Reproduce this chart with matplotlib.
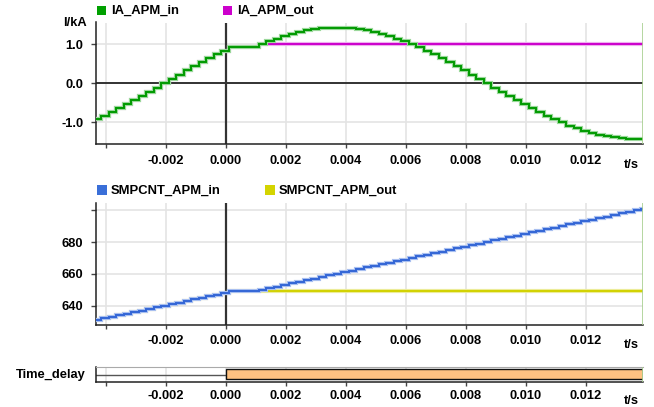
import numpy as np
import matplotlib.pyplot as plt
from matplotlib.patches import Rectangle
from matplotlib.ticker import FuncFormatter

plt.rcParams['font.family'] = ['Liberation Sans', 'DejaVu Sans']
plt.rcParams['font.weight'] = 'bold'
plt.rcParams['font.size'] = 9.3

# sample times in ms
time_ms = [-4.4, -4.15, -3.9, -3.65, -3.4, -3.15, -2.9, -2.65, -2.4, -2.15,
           -1.9, -1.65, -1.4, -1.15, -0.9, -0.65, -0.4, -0.15,
           0.1, 0.35, 0.6, 0.85,
           1.1, 1.35, 1.6, 1.85, 2.1, 2.35, 2.6, 2.85, 3.1, 3.35, 3.6, 3.85,
           4.1, 4.35, 4.6, 4.85, 5.1, 5.35, 5.6, 5.85, 6.1, 6.35, 6.6, 6.85,
           7.1, 7.35, 7.6, 7.85, 8.1, 8.35, 8.6, 8.85, 9.1, 9.35, 9.6, 9.85,
           10.1, 10.35, 10.6, 10.85, 11.1, 11.35, 11.6, 11.85, 12.1, 12.35,
           12.6, 12.85, 13.1, 13.35, 13.6, 13.85]

ia_in = [-0.92, -0.83, -0.74, -0.64, -0.54, -0.44, -0.33, -0.22, -0.11, 0.00,
         0.11, 0.22, 0.33, 0.44, 0.54, 0.64, 0.74, 0.83,
         0.92, 0.92, 0.92, 0.92,
         1.00, 1.08, 1.14, 1.21, 1.26, 1.31, 1.35, 1.38, 1.40, 1.41, 1.41,
         1.41, 1.40, 1.38, 1.35, 1.31, 1.26, 1.21, 1.14, 1.08, 1.00, 0.92,
         0.83, 0.74, 0.64, 0.54, 0.44, 0.33, 0.22, 0.11, 0.00,
         -0.11, -0.22, -0.33, -0.44, -0.54, -0.64, -0.74, -0.83, -0.92, -1.00,
         -1.08, -1.14, -1.21, -1.26, -1.31, -1.35, -1.38, -1.40, -1.41, -1.41, -1.41]

ia_out = [-0.92, -0.83, -0.74, -0.64, -0.54, -0.44, -0.33, -0.22, -0.11, 0.00,
          0.11, 0.22, 0.33, 0.44, 0.54, 0.64, 0.74, 0.83,
          0.92, 0.92, 0.92, 0.92,
          1.00, 1.00, 1.00, 1.00, 1.00, 1.00, 1.00, 1.00, 1.00, 1.00, 1.00,
          1.00, 1.00, 1.00, 1.00, 1.00, 1.00, 1.00, 1.00, 1.00, 1.00, 1.00,
          1.00, 1.00, 1.00, 1.00, 1.00, 1.00, 1.00, 1.00, 1.00,
          1.00, 1.00, 1.00, 1.00, 1.00, 1.00, 1.00, 1.00, 1.00, 1.00,
          1.00, 1.00, 1.00, 1.00, 1.00, 1.00, 1.00, 1.00, 1.00, 1.00, 1.00]

smpcnt_in = [631, 632, 633, 634, 635, 636, 637, 638, 639, 640,
             641, 642, 643, 644, 645, 646, 647, 648,
             649, 649, 649, 649,
             650, 651, 652, 653, 654, 655, 656, 657, 658, 659, 660, 661,
             662, 663, 664, 665, 666, 667, 668, 669, 670, 671, 672, 673,
             674, 675, 676, 677, 678, 679, 680, 681, 682, 683, 684, 685,
             686, 687, 688, 689, 690, 691, 692, 693, 694, 695,
             696, 697, 698, 699, 700, 701]

smpcnt_out = [631, 632, 633, 634, 635, 636, 637, 638, 639, 640,
              641, 642, 643, 644, 645, 646, 647, 648,
              649, 649, 649, 649,
              649, 649, 649, 649, 649, 649, 649, 649, 649, 649, 649, 649,
              649, 649, 649, 649, 649, 649, 649, 649, 649, 649, 649, 649,
              649, 649, 649, 649, 649, 649, 649, 649, 649, 649, 649, 649,
              649, 649, 649, 649, 649, 649, 649, 649, 649, 649,
              649, 649, 649, 649, 649, 649]

# Time_delay: off before the trigger, on after it
delay_switch_ms = 0.0

x_ticks = [-0.004, -0.002, 0.000, 0.002, 0.004, 0.006, 0.008, 0.010, 0.012]
ia_ticks = [-1.0, 0.0, 1.0]
smp_ticks = [640, 660, 680, 700]

t = np.array(time_ms) / 1000.0
xmin, xmax = -0.00434, 0.01391

W, H = 654, 407
fig = plt.figure(figsize=(W / 100, H / 100), dpi=100)


def fx(px):
    return px / W


def fy(py):
    return 1 - py / H


GRID = '#e4e4e4'
DARK = '#333333'
EDGE = '#a8d090'


def style_axis(ax, pad):
    ax.set_xlim(xmin, xmax)
    ax.set_xticks(x_ticks)
    ax.xaxis.set_major_formatter(FuncFormatter(
        lambda v, p: '' if v < -0.003 else f'{v:.3f}'))
    for s in ['top', 'right']:
        ax.spines[s].set_visible(False)
    for s in ['left', 'bottom']:
        ax.spines[s].set_color('#222222')
        ax.spines[s].set_linewidth(1.1)
    ax.tick_params(axis='x', length=3, width=1, color='#444444', pad=pad)
    ax.tick_params(axis='y', length=3.5, width=1, color='#444444', pad=5.2)
    ax.grid(True, color=GRID, lw=1.2)
    ax.set_axisbelow(True)
    ax.axvline(xmax, color=EDGE, lw=1.2, zorder=5)


def step_line(ax, y, color, halo, z):
    xs = np.append(t, xmax)
    ys = np.append(y, y[-1])
    ax.plot(xs, ys, drawstyle='steps-post', color=halo, lw=3.0, zorder=z,
            solid_capstyle='butt', solid_joinstyle='miter')
    ax.plot(xs, ys, drawstyle='steps-post', color=color, lw=1.4, zorder=z + 0.5,
            solid_joinstyle='miter')


# top panel: current
ax1 = fig.add_axes([fx(95.5), fy(144), fx(643) - fx(95.5), fy(22.5) - fy(144)])
style_axis(ax1, 5.0)
ax1.set_ylim(-1.55, 1.55)
ax1.set_yticks(ia_ticks)
ax1.yaxis.set_major_formatter(FuncFormatter(lambda v, p: f'{v:.1f}'))
ax1.axhline(0, color=DARK, lw=1.4, zorder=2)
ax1.axvline(0, color=DARK, lw=1.6, zorder=2)
step_line(ax1, ia_out, '#cc00cc', '#eeb0ee', 3)
step_line(ax1, ia_in, '#009a00', '#9ad89a', 4)

# middle panel: sample counter
ax2 = fig.add_axes([fx(95.5), fy(325), fx(643) - fx(95.5), fy(203.3) - fy(325)])
style_axis(ax2, 4.3)
ax2.set_ylim(627.9, 704.3)
ax2.set_yticks(smp_ticks)
ax2.yaxis.set_major_formatter(FuncFormatter(
    lambda v, p: '' if v > 690 else f'{v:.0f}'))
ax2.axvline(0, color=DARK, lw=1.6, zorder=2)
step_line(ax2, smpcnt_out, '#d2d200', '#ecec99', 3)
step_line(ax2, smpcnt_in, '#3366d6', '#a8bff0', 4)

# bottom panel: Time_delay
ax3 = fig.add_axes([fx(95.5), fy(382), fx(643) - fx(95.5), 15 / H])
style_axis(ax3, 2.9)
ax3.grid(False, axis='y')
ax3.set_ylim(0, 1)
ax3.set_yticks([])
ax3.spines['top'].set_visible(True)
ax3.spines['top'].set_color('#aaaaaa')
ax3.spines['top'].set_linewidth(0.8)
ax3.plot([xmin, delay_switch_ms / 1000], [0.5, 0.5], color='#555555', lw=1.0)
ax3.add_patch(Rectangle((delay_switch_ms / 1000, 0.2),
                        xmax - delay_switch_ms / 1000, 0.7,
                        facecolor='#ffc282', edgecolor='#111111', lw=1.0,
                        zorder=3))

# labels
fig.text(fx(87), fy(22.5), 'I/kA', ha='right', va='center')
fig.text(fx(86), fy(375), 'Time_delay', ha='right', va='center')
for py in [164.6, 344.5, 401.5]:
    fig.text(fx(631), fy(py), 't/s', ha='center', va='center')

# legends
legend_items = [
    (96.7, 10.5, '#00a000', 'IA_APM_in'),
    (223.0, 10.5, '#cc00cc', 'IA_APM_out'),
    (97.0, 190.3, '#3a6fd8', 'SMPCNT_APM_in'),
    (265.0, 190.3, '#d4d400', 'SMPCNT_APM_out'),
]
for px, py, c, label in legend_items:
    fig.add_artist(Rectangle((fx(px), fy(py + 4.7)), 9.5 / W, 9.5 / H,
                             facecolor=c, edgecolor='none',
                             transform=fig.transFigure))
    fig.text(fx(px + 14), fy(py), label, ha='left', va='center',
             fontsize=9.4)

fig.savefig('out.png', dpi=100)
